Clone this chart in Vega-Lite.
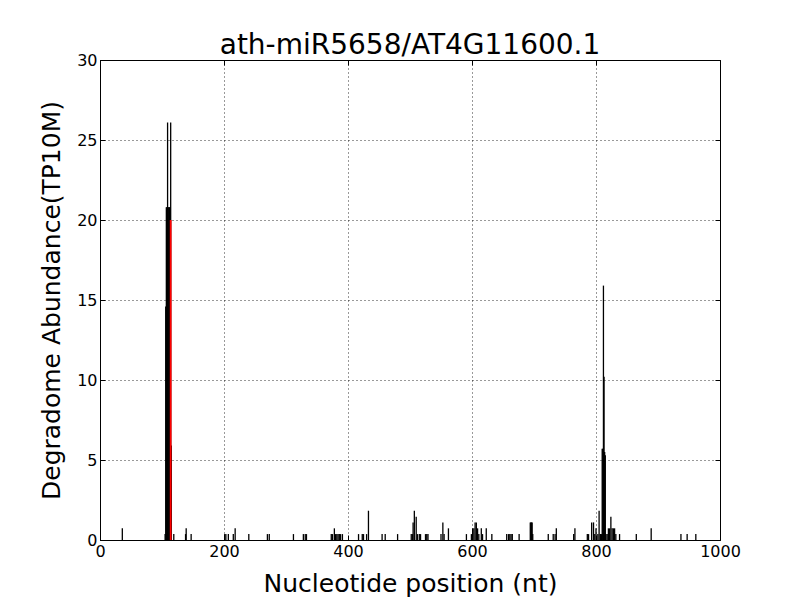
{
  "$schema": "https://vega.github.io/schema/vega-lite/v6.json",
  "autosize": {"type": "none"},
  "padding": {"left": 100, "top": 60, "right": 80, "bottom": 60},
  "width": 620,
  "height": 480,
  "background": "white",
  "title": {"text": "ath-miR5658/AT4G11600.1", "font": "DejaVu Sans", "fontSize": 28, "fontWeight": "normal", "color": "black", "offset": -8},
  "config": {
    "view": {"stroke": "black", "strokeWidth": 1},
    "axis": {
      "domainColor": "black", "tickColor": "black", "labelColor": "black", "titleColor": "black",
      "labelFont": "DejaVu Sans", "titleFont": "DejaVu Sans", "labelFontSize": 16, "titleFontSize": 25,
      "titleFontWeight": "normal", "gridColor": "black", "gridDash": [1, 3], "gridOpacity": 0.8, "gridWidth": 1,
      "tickSize": -5, "labelPadding": 8, "labelFlush": false
    }
  },
  "data": {"values": [
    {"nt": 36, "v": 0.73, "t": "o"}, {"nt": 105, "v": 0.37, "t": "o"}, {"nt": 106, "v": 14.6, "t": "o"},
    {"nt": 107, "v": 20.8, "t": "o"}, {"nt": 108, "v": 20.8, "t": "o"}, {"nt": 109, "v": 26.1, "t": "o"},
    {"nt": 110, "v": 20.8, "t": "o"}, {"nt": 111, "v": 20.8, "t": "o"}, {"nt": 112, "v": 20.8, "t": "o"},
    {"nt": 113, "v": 20.8, "t": "o"}, {"nt": 114, "v": 26.1, "t": "o"}, {"nt": 114, "v": 20.0, "t": "c"},
    {"nt": 115, "v": 5.9, "t": "o"}, {"nt": 119, "v": 0.37, "t": "o"}, {"nt": 138, "v": 0.37, "t": "o"},
    {"nt": 139, "v": 0.73, "t": "o"}, {"nt": 147, "v": 0.37, "t": "o"}, {"nt": 201, "v": 0.37, "t": "o"},
    {"nt": 203, "v": 0.37, "t": "o"}, {"nt": 207, "v": 0.37, "t": "o"}, {"nt": 215, "v": 0.37, "t": "o"},
    {"nt": 218, "v": 0.73, "t": "o"}, {"nt": 240, "v": 0.37, "t": "o"}, {"nt": 270, "v": 0.37, "t": "o"},
    {"nt": 273, "v": 0.37, "t": "o"}, {"nt": 312, "v": 0.37, "t": "o"}, {"nt": 328, "v": 0.37, "t": "o"},
    {"nt": 331, "v": 0.37, "t": "o"}, {"nt": 333, "v": 0.37, "t": "o"}, {"nt": 373, "v": 0.37, "t": "o"},
    {"nt": 375, "v": 0.37, "t": "o"}, {"nt": 378, "v": 0.73, "t": "o"}, {"nt": 380, "v": 0.37, "t": "o"},
    {"nt": 382, "v": 0.37, "t": "o"}, {"nt": 384, "v": 0.37, "t": "o"}, {"nt": 386, "v": 0.37, "t": "o"},
    {"nt": 388, "v": 0.37, "t": "o"}, {"nt": 391, "v": 0.37, "t": "o"}, {"nt": 417, "v": 0.37, "t": "o"},
    {"nt": 423, "v": 0.37, "t": "o"}, {"nt": 425, "v": 0.37, "t": "o"}, {"nt": 430, "v": 0.37, "t": "o"},
    {"nt": 433, "v": 1.83, "t": "o"}, {"nt": 455, "v": 0.37, "t": "o"}, {"nt": 460, "v": 0.37, "t": "o"},
    {"nt": 480, "v": 0.37, "t": "o"}, {"nt": 502, "v": 0.37, "t": "o"}, {"nt": 504, "v": 0.37, "t": "o"},
    {"nt": 505, "v": 1.1, "t": "o"}, {"nt": 507, "v": 1.83, "t": "o"}, {"nt": 510, "v": 1.46, "t": "o"},
    {"nt": 512, "v": 0.37, "t": "o"}, {"nt": 515, "v": 0.37, "t": "o"}, {"nt": 517, "v": 0.37, "t": "o"},
    {"nt": 525, "v": 0.37, "t": "o"}, {"nt": 527, "v": 0.37, "t": "o"}, {"nt": 529, "v": 0.37, "t": "o"},
    {"nt": 550, "v": 0.37, "t": "o"}, {"nt": 553, "v": 1.1, "t": "o"}, {"nt": 555, "v": 0.37, "t": "o"},
    {"nt": 562, "v": 0.73, "t": "o"}, {"nt": 591, "v": 0.37, "t": "o"}, {"nt": 599, "v": 0.37, "t": "o"},
    {"nt": 601, "v": 0.73, "t": "o"}, {"nt": 603, "v": 0.73, "t": "o"}, {"nt": 605, "v": 1.1, "t": "o"},
    {"nt": 607, "v": 1.1, "t": "o"}, {"nt": 609, "v": 0.73, "t": "o"}, {"nt": 611, "v": 0.37, "t": "o"},
    {"nt": 615, "v": 0.73, "t": "o"}, {"nt": 617, "v": 0.37, "t": "o"}, {"nt": 623, "v": 0.73, "t": "o"},
    {"nt": 632, "v": 0.37, "t": "o"}, {"nt": 656, "v": 0.37, "t": "o"}, {"nt": 659, "v": 0.37, "t": "o"},
    {"nt": 661, "v": 0.37, "t": "o"}, {"nt": 663, "v": 0.37, "t": "o"}, {"nt": 665, "v": 0.37, "t": "o"},
    {"nt": 676, "v": 0.37, "t": "o"}, {"nt": 694, "v": 1.1, "t": "o"}, {"nt": 695, "v": 1.1, "t": "o"},
    {"nt": 696, "v": 1.1, "t": "o"}, {"nt": 697, "v": 1.1, "t": "o"}, {"nt": 698, "v": 0.37, "t": "o"},
    {"nt": 723, "v": 0.37, "t": "o"}, {"nt": 731, "v": 0.37, "t": "o"}, {"nt": 734, "v": 0.37, "t": "o"},
    {"nt": 736, "v": 0.73, "t": "o"}, {"nt": 764, "v": 0.37, "t": "o"}, {"nt": 766, "v": 0.73, "t": "o"},
    {"nt": 786, "v": 0.37, "t": "o"}, {"nt": 788, "v": 0.37, "t": "o"}, {"nt": 793, "v": 1.1, "t": "o"},
    {"nt": 796, "v": 1.1, "t": "o"}, {"nt": 798, "v": 0.37, "t": "o"}, {"nt": 800, "v": 0.73, "t": "o"},
    {"nt": 803, "v": 0.37, "t": "o"}, {"nt": 805, "v": 1.83, "t": "o"}, {"nt": 807, "v": 0.37, "t": "o"},
    {"nt": 809, "v": 0.37, "t": "o"}, {"nt": 810, "v": 5.7, "t": "o"}, {"nt": 811, "v": 5.7, "t": "o"},
    {"nt": 812, "v": 15.9, "t": "o"}, {"nt": 813, "v": 10.2, "t": "o"}, {"nt": 814, "v": 5.5, "t": "o"},
    {"nt": 815, "v": 5.3, "t": "o"}, {"nt": 816, "v": 0.37, "t": "o"}, {"nt": 818, "v": 0.37, "t": "o"},
    {"nt": 820, "v": 0.73, "t": "o"}, {"nt": 822, "v": 0.73, "t": "o"}, {"nt": 824, "v": 1.46, "t": "o"},
    {"nt": 826, "v": 0.73, "t": "o"}, {"nt": 828, "v": 0.73, "t": "o"}, {"nt": 830, "v": 0.73, "t": "o"},
    {"nt": 832, "v": 0.37, "t": "o"}, {"nt": 838, "v": 0.37, "t": "o"}, {"nt": 865, "v": 0.37, "t": "o"},
    {"nt": 889, "v": 0.73, "t": "o"}, {"nt": 937, "v": 0.37, "t": "o"}, {"nt": 947, "v": 0.37, "t": "o"},
    {"nt": 961, "v": 0.37, "t": "o"}
  ]},
  "layer": [
    {
      "transform": [{"filter": "datum.t == 'o'"}],
      "mark": {"type": "rule", "color": "black", "strokeWidth": 1.3},
      "encoding": {
        "x": {"field": "nt", "type": "quantitative", "scale": {"domain": [0, 1000], "nice": false},
              "axis": {"values": [0, 200, 400, 600, 800, 1000], "title": "Nucleotide position (nt)", "titlePadding": 12, "format": "d"}},
        "y": {"field": "v", "type": "quantitative", "scale": {"domain": [0, 30], "nice": false},
              "axis": {"values": [0, 5, 10, 15, 20, 25, 30], "title": "Degradome Abundance(TP10M)", "titlePadding": 12}},
        "y2": {"datum": 0}
      }
    },
    {
      "transform": [{"filter": "datum.t == 'c'"}],
      "mark": {"type": "rule", "color": "red", "strokeWidth": 1.8},
      "encoding": {
        "x": {"field": "nt", "type": "quantitative",
              "axis": {"orient": "top", "values": [0, 200, 400, 600, 800, 1000], "labels": false, "grid": false, "title": null, "domain": false}},
        "y": {"field": "v", "type": "quantitative",
              "axis": {"orient": "right", "values": [0, 5, 10, 15, 20, 25, 30], "labels": false, "grid": false, "title": null, "domain": false}},
        "y2": {"datum": 0}
      }
    }
  ],
  "resolve": {"axis": {"x": "independent", "y": "independent"}}
}
